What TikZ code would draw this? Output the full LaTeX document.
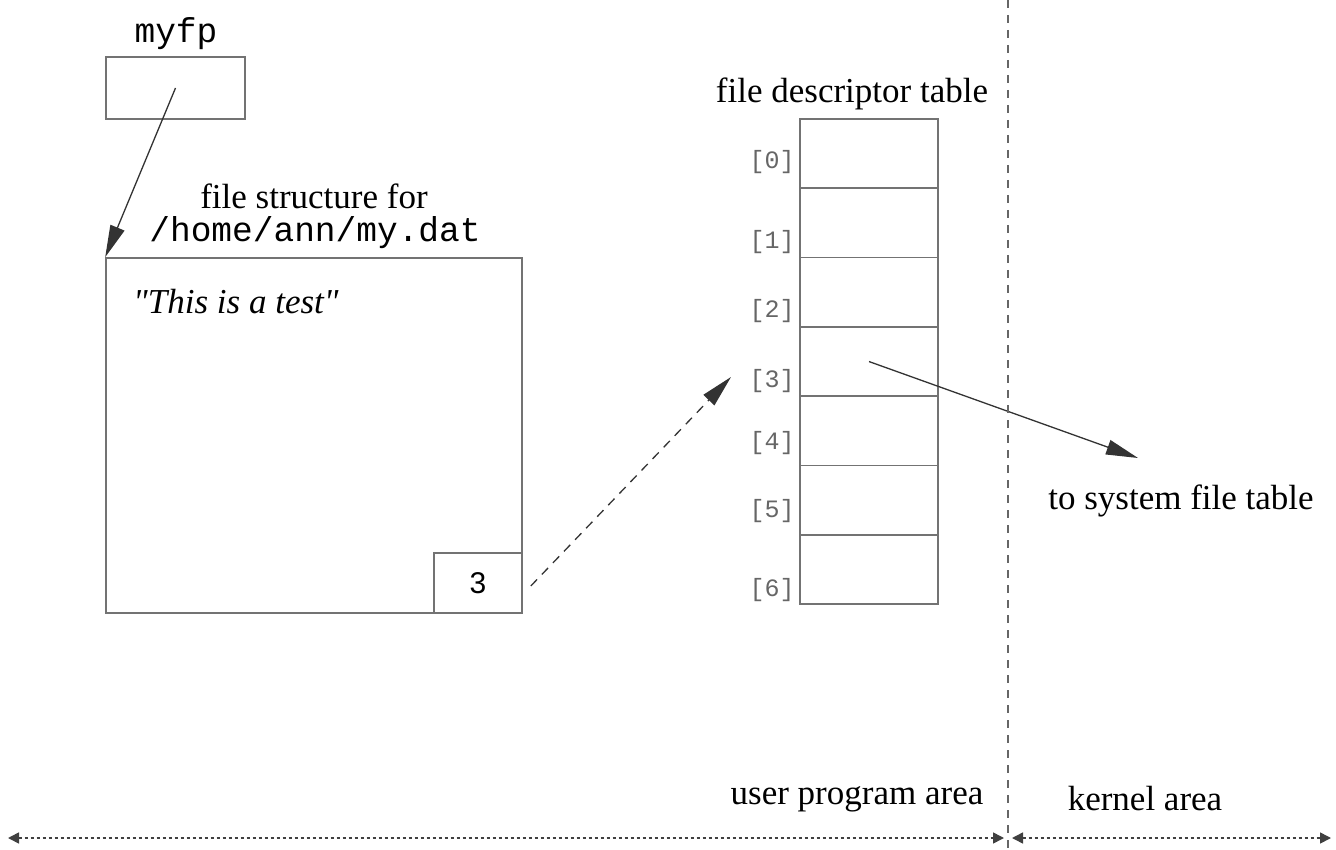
\documentclass[tikz,border=0pt]{standalone}
\usepackage{fontspec}
\setmainfont{Liberation Serif}
\newfontfamily\cour{Liberation Mono}
\newfontfamily\helv{Liberation Sans}
\usetikzlibrary{arrows.meta}
\begin{document}
\begin{tikzpicture}[x=1pt,y=-1pt,
  boxline/.style={draw=black!55,line width=1.6pt},
  cell/.style={boxline,minimum width=138pt,minimum height=69.3pt,inner sep=0pt,outer sep=0pt},
  lbl/.style={font=\fontsize{35}{38}\selectfont,inner sep=0pt},
  ttlbl/.style={font=\cour\fontsize{34.5}{38}\selectfont,inner sep=0pt},
  idx/.style={font=\cour\fontsize{25}{28}\selectfont,text=black!60,inner sep=0pt},
  ptr/.style={draw=black!80,line width=1.3pt,-{Triangle[length=32pt,width=15pt]}},
  dptr/.style={ptr,dash pattern=on 9pt off 7pt},
  dotarrow/.style={draw=black!75,line width=1.6pt,dash pattern=on 3pt off 3pt,{Triangle[length=11pt,width=11pt]}-{Triangle[length=11pt,width=11pt]}}]
\useasboundingbox (0,0) rectangle (1336,850);
% myfp
\node[ttlbl] (myfplbl) at (176,34) {myfp};
\node[boxline,minimum width=139pt,minimum height=62pt,inner sep=0pt] (myfp) at (175.5,88) {};
% file structure
\node[lbl] (fslbl1) at (314,196) {file structure for};
\node[ttlbl] (fslbl2) at (315,233) {/home/ann/my.dat};
\node[boxline,minimum width=416pt,minimum height=355pt,inner sep=0pt] (fs) at (314,435.5) {};
\node[lbl,font=\itshape\fontsize{35}{38}\selectfont,anchor=west] (txt) at (133,302) {\textquotedbl This is a test\textquotedbl};
\node[boxline,minimum width=88pt,minimum height=60pt,inner sep=0pt,font=\helv\fontsize{30}{34}\selectfont] (three) at (478,583) {3};
\draw[ptr] (myfp.center) -- (fs.north west);
% table
\node[lbl] (fdtlbl) at (852,94) {file descriptor table};
\node[cell] (c0) at (869,153.65) {};
\node[cell] (c1) at (869,222.95) {};
\node[cell] (c2) at (869,292.25) {};
\node[cell] (c3) at (869,361.55) {};
\node[cell] (c4) at (869,430.85) {};
\node[cell] (c5) at (869,500.15) {};
\node[cell] (c6) at (869,569.45) {};
\node[idx] (i0) at (772,162) {[0]};
\node[idx] (i1) at (772,242) {[1]};
\node[idx] (i2) at (772,311) {[2]};
\node[idx] (i3) at (772,381) {[3]};
\node[idx] (i4) at (772,443) {[4]};
\node[idx] (i5) at (772,511) {[5]};
\node[idx] (i6) at (772,590) {[6]};
\coordinate (dashend) at (731,377);
\draw[dptr] ([xshift=8pt,yshift=-3pt]three.east) -- (dashend);
% system file table
\coordinate (sysend) at (1138,458);
\draw[ptr] (c3.center) -- (sysend);
\node[lbl] (syslbl) at (1181,501) {to system file table};
% divider
\coordinate (divtop) at (1008,0);
\coordinate (divbot) at (1008,850);
\draw[draw=black!60,line width=1.4pt,dash pattern=on 8pt off 7pt] (divtop) -- (divbot);
\node[lbl] (user) at (857,799) {user program area};
\node[lbl] (kern) at (1145,799) {kernel area};
\coordinate (l1) at (8,838);
\coordinate (l2) at (1004,838);
\coordinate (r1) at (1012,838);
\coordinate (r2) at (1331,838);
\draw[dotarrow] (l1) -- (l2);
\draw[dotarrow] (r1) -- (r2);
\end{tikzpicture}
\end{document}
